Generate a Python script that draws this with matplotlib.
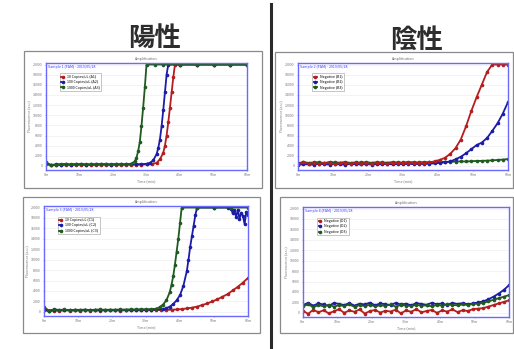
import matplotlib.pyplot as plt
from matplotlib.patches import Rectangle
from matplotlib.lines import Line2D

plt.rcParams['font.family'] = ['Noto Sans CJK JP', 'DejaVu Sans']

# 共通のX軸（時間）
base_x = [0, 3, 6, 9, 12, 15, 18, 21, 24, 27, 30, 33, 36, 39, 42, 45, 48, 51]
late_x = [54, 57, 60, 63, 66, 69, 72, 75, 78, 81, 84, 87, 90, 93, 96, 99, 102, 105, 108, 111, 114, 117, 120]
tick_vals = [0, 20, 40, 60, 80, 100, 120]
tick_labels = ['0m', '10m', '20m', '30m', '40m', '50m', '60m']
y_ticks = [0, 2000, 4000, 6000, 8000, 10000, 12000, 14000, 16000, 18000, 20000]

# 陽性（上）
tl_green_x = base_x + [53, 54, 55, 56, 57, 58, 59, 60, 65, 70, 80, 90, 100, 110, 120]
tl_green_y = [700, 150, 250, 400, 350, 300, 380, 320, 360, 300, 340, 380, 310, 350, 330, 360, 320, 450,
              900, 1600, 2900, 4700, 7900, 11500, 15500, 20000, 20000, 20000, 20000, 20000, 20000, 20000, 20000]
tl_blue_x = base_x + [54, 57, 60, 62, 64, 66, 67, 68, 69, 70, 71, 72, 73, 80, 90, 100, 110, 120]
tl_blue_y = [500, 200, 300, 250, 320, 280, 300, 350, 260, 310, 290, 330, 300, 280, 340, 300, 320, 310,
             350, 330, 420, 600, 1100, 2300, 3500, 5200, 7800, 11000, 14500, 18000, 20000,
             20000, 20000, 20000, 20000, 20000]
tl_red_x = base_x + [54, 57, 60, 63, 66, 68, 70, 71, 72, 73, 74, 75, 76, 77, 80, 90, 100, 110, 120]
tl_red_y = [400, 100, 200, 180, 250, 220, 260, 200, 240, 230, 210, 260, 230, 240, 250, 220, 260, 240,
            250, 270, 300, 380, 600, 1300, 2600, 4000, 6000, 8600, 11500, 14500, 17500, 20000,
            20000, 20000, 20000, 20000, 20000]

# 陰性（上）
tr_x = base_x + late_x
tr_red_y = [300, 700, 450, 550, 400, 650, 500, 380, 600, 520, 450, 620, 480, 560, 420, 600, 530, 470,
            610, 500, 560, 620, 580, 650, 620, 700, 900, 1200, 1600, 2400, 3500, 5200, 7800, 10800,
            13500, 16000, 18500, 20000, 20000, 20000, 20000]
tr_blue_y = [200, 350, 300, 250, 420, 330, 280, 380, 300, 260, 400, 340, 300, 380, 280, 350, 320, 400,
             300, 380, 340, 420, 360, 400, 380, 450, 500, 600, 700, 900, 1300, 1800, 2500, 3300,
             4100, 4600, 5500, 6900, 8400, 10300, 12600]
tr_green_y = [500, 800, 600, 700, 750, 550, 800, 700, 650, 780, 600, 720, 680, 760, 620, 740, 700, 650,
              760, 700, 680, 780, 720, 700, 760, 740, 800, 780, 820, 800, 860, 900, 880, 940, 980,
              1000, 1050, 1100, 1180, 1260, 1350]

# 陽性（下）
bl_green_x = base_x + [54, 57, 60, 63, 66, 68, 70, 72, 74, 75, 76, 77, 78, 79, 80, 81, 90, 100, 110, 120]
bl_green_y = [900, 200, 500, 350, 450, 300, 400, 380, 420, 350, 400, 450, 380, 420, 400, 460, 420, 480,
              450, 500, 480, 520, 600, 900, 1400, 2200, 3800, 5200, 6800, 9000, 11500, 14000, 17000,
              20000, 20000, 20000, 20000, 20000]
bl_blue_x = base_x + [54, 57, 60, 63, 66, 70, 72, 74, 76, 78, 80, 82, 84, 85, 86, 87, 88, 89, 90, 100,
                      108, 110, 111, 112, 113, 114, 115, 116, 117, 118, 119, 120]
bl_blue_y = [600, 250, 350, 300, 380, 330, 350, 300, 400, 320, 360, 340, 380, 330, 370, 350, 390, 360,
             380, 400, 420, 400, 450, 500, 700, 1000, 1500, 2200, 3200, 5000, 7800, 10000, 12500,
             14500, 16500, 18500, 20000, 20000, 20000, 19800, 18900, 19500, 18200, 19600, 17800,
             19000, 18400, 16800, 19200, 18600]
bl_red_x = base_x + late_x
bl_red_y = [300, 100, 250, 200, 300, 220, 260, 240, 300, 250, 280, 230, 300, 260, 280, 250, 310, 270,
            300, 280, 320, 300, 350, 330, 380, 400, 450, 520, 650, 800, 1000, 1300, 1600, 2000,
            2400, 2900, 3400, 4100, 4800, 5600, 6500]

# 陰性（下）
br_x = base_x + late_x
br_blue_y = [1500, 1900, 1400, 1800, 1600, 1300, 1900, 1700, 1500, 1850, 1400, 1750, 1600, 1950, 1450,
             1800, 1650, 1500, 1900, 1600, 1750, 1450, 1850, 1700, 1550, 1900, 1650, 1800, 1500,
             1900, 1700, 1850, 1650, 1800, 2000, 2200, 2600, 3100, 3700, 4400, 5300]
br_green_y = [1300, 1600, 1100, 1500, 1250, 1550, 1200, 1450, 1350, 1600, 1150, 1500, 1300, 1550, 1250,
              1450, 1350, 1600, 1200, 1500, 1400, 1300, 1550, 1350, 1450, 1250, 1500, 1400, 1600,
              1500, 1450, 1600, 1500, 1700, 1750, 1900, 2200, 2500, 2800, 3100, 3400]
br_red_y = [400, -200, 600, 100, 500, -100, 300, 700, 0, 450, 200, 650, -150, 350, 550, 50, 400, 250,
            600, -100, 450, 200, 700, 100, 350, 550, 0, 450, 250, 650, 150, 500, 350, 700, 800,
            900, 1200, 1500, 1800, 2100, 2400]

RED = '#b41e1e'
BLUE = '#1c1ca8'
GREEN = '#1f5a1f'

panels = [
    # (axes矩形[px], 外枠[px], series)
    ((46, 63, 247, 170), (24, 51, 262, 188),
     [(tl_red_x, tl_red_y, RED), (tl_blue_x, tl_blue_y, BLUE), (tl_green_x, tl_green_y, GREEN)]),
    ((298, 63, 508, 170), (275, 52, 513, 188),
     [(tr_x, tr_green_y, GREEN), (tr_x, tr_blue_y, BLUE), (tr_x, tr_red_y, RED)]),
    ((44, 206, 248, 316), (23, 197, 260, 333),
     [(bl_red_x, bl_red_y, RED), (bl_blue_x, bl_blue_y, BLUE), (bl_green_x, bl_green_y, GREEN)]),
    ((303, 207, 509, 317), (280, 197, 513, 333),
     [(br_x, br_blue_y, BLUE), (br_x, br_green_y, GREEN), (br_x, br_red_y, RED)]),
]
legend_names = [['10 Copies/uL (A1)', '100 Copies/uL (A2)', '1000 Copies/uL (A3)'],
                ['Negative (B1)', 'Negative (B2)', 'Negative (B3)'],
                ['10 Copies/uL (C1)', '100 Copies/uL (C2)', '1000 Copies/uL (C3)'],
                ['Negative (D1)', 'Negative (D2)', 'Negative (D3)']]

W, H = 514, 349
fig = plt.figure(figsize=(W / 100, H / 100), dpi=100)

for i, (ax_px, frame_px, series) in enumerate(panels):
    x0, y0, x1, y1 = frame_px
    fig.patches.append(Rectangle((x0 / W, 1 - y1 / H), (x1 - x0) / W, (y1 - y0) / H,
                                 transform=fig.transFigure, fill=False,
                                 edgecolor='#8a8a8a', linewidth=0.9))
    a0, b0, a1, b1 = ax_px
    ax = fig.add_axes([a0 / W, 1 - b1 / H, (a1 - a0) / W, (b1 - b0) / H])
    handles = []
    for sx, sy, c in series:
        h, = ax.plot(sx, sy, '-o', color=c, linewidth=1.3, markersize=2.6, markeredgewidth=0)
        handles.append(h)
    ax.set_xlim(0, 120)
    ax.set_ylim(-800, 20300)
    ax.set_xticks(tick_vals)
    ax.set_xticklabels(tick_labels)
    ax.set_yticks(y_ticks)
    ax.tick_params(labelsize=2.6, length=1, width=0.4, pad=1.5, colors='#777777')
    ax.grid(axis='y', color='#eeeeee', linewidth=0.5)
    for sp in ax.spines.values():
        sp.set_color('#6a6aff')
        sp.set_linewidth(1.0)
    ax.set_xlabel('Time (min)', fontsize=2.6, color='#777777', labelpad=1)
    ax.set_ylabel('Fluorescence (a.u.)', fontsize=2.6, color='#777777', labelpad=1)
    ax.set_title('Amplification', fontsize=2.6, color='#666666', pad=2)
    ax.text(0.01, 0.985, 'Sample %d (FAM) - 2019/05/28' % (i + 1), transform=ax.transAxes,
            fontsize=2.6, color='#3a3aff', va='top', ha='left')
    # 凡例は赤・青・緑の順
    order = {RED: 0, BLUE: 1, GREEN: 2}
    hs = sorted(handles, key=lambda h: order[h.get_color()])
    leg = ax.legend(hs, legend_names[i], loc='upper left', bbox_to_anchor=(0.06, 0.92),
                    fontsize=2.6, frameon=True, handlelength=0.8, borderpad=0.4,
                    labelspacing=0.4, fancybox=False)
    leg.get_frame().set_edgecolor('#999999')
    leg.get_frame().set_linewidth(0.5)

# タイトル
fig.text(155 / W, 1 - 38 / H, '陽性', fontsize=19, fontweight='bold', color='#2d2d2d',
         ha='center', va='center')
fig.text(416 / W, 1 - 40 / H, '陰性', fontsize=19, fontweight='bold', color='#2d2d2d',
         ha='center', va='center')

# 中央の区切り線
fig.lines.append(Line2D([271 / W, 271 / W], [1 - 4 / H, 0], transform=fig.transFigure,
                        color='#2a2a2a', linewidth=2.2))

fig.savefig('out.png', dpi=100)
